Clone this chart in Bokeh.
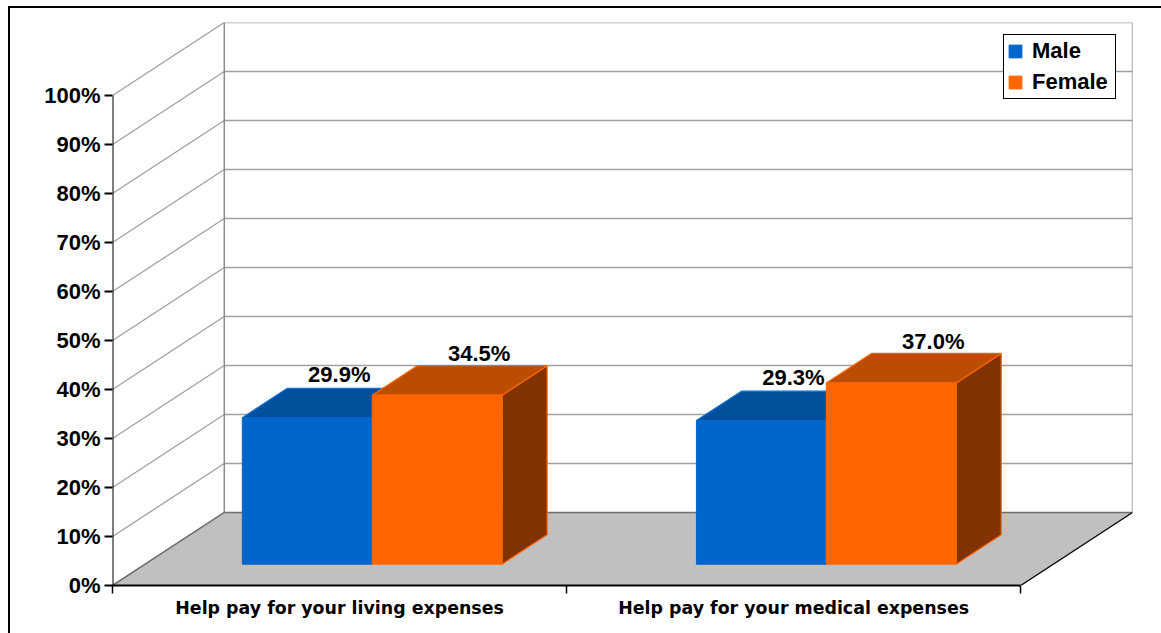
from bokeh.plotting import figure
from bokeh.embed import file_html
from bokeh.resources import INLINE
from bokeh.models import (Range1d, LinearAxis, FixedTicker, Legend, LegendItem)
from bokeh.core.properties import value

categories = ["Help pay for your living expenses", "Help pay for your medical expenses"]
male = [29.9, 29.3]
female = [34.5, 37.0]
male_labels = ["29.9%", "29.3%"]
female_labels = ["34.5%", "37.0%"]
y_ticks = [0, 10, 20, 30, 40, 50, 60, 70, 80, 90, 100]
y_tick_labels = ["0%", "10%", "20%", "30%", "40%", "50%", "60%", "70%", "80%", "90%", "100%"]

# oblique projection of the 3D chart
DX, DY = 0.2462, 14.9        # full chart depth in axis units
BAR_W = 0.286
BAR_START = 0.214
D0, D1 = 0.292, 0.695        # bar depth range as a fraction of chart depth

def proj(x, v, d):
    return x + d * DX, v + d * DY

FONT = "Liberation Sans"
p = figure(frame_width=1020, frame_height=563, width=1151, height=625,
           x_range=Range1d(0, 2 + DX), y_range=Range1d(0, 100 + DY),
           x_axis_type=None, y_axis_type=None, output_backend="svg", toolbar_location=None,
           min_border_left=102, min_border_right=29, min_border_top=14, min_border_bottom=48,
           margin=(6, 0, 0, 8),
           styles={"border-top": "2px solid #000000", "border-left": "2px solid #000000"},
           background_fill_color="white", border_fill_color="white")
p.outline_line_color = None
p.grid.visible = False

# floor
fx, fy = zip(*[proj(0, 0, 0), proj(2, 0, 0), proj(2, 0, 1), proj(0, 0, 1)])
p.patch(list(fx), list(fy), fill_color="#c0c0c0", line_color=None)

# walls: grid lines
for t in y_ticks[1:]:
    a, b, c = proj(0, t, 0), proj(0, t, 1), proj(2, t, 1)
    p.line([a[0], b[0], c[0]], [a[1], b[1], c[1]], line_color="#a0a0a0", line_width=1.3)
top_l, bot_l = proj(0, 100, 1), proj(0, 0, 1)
top_r, bot_r = proj(2, 100, 1), proj(2, 0, 1)
p.line([top_l[0], bot_l[0]], [top_l[1], bot_l[1]], line_color="#8c8c8c", line_width=1.5)
p.line([top_r[0], bot_r[0]], [top_r[1], bot_r[1]], line_color="#8c8c8c", line_width=1.5)
p.line([bot_l[0], bot_r[0]], [bot_l[1], bot_r[1]], line_color="#6e6e6e", line_width=1.5)
o = proj(0, 0, 0)
p.line([o[0], bot_l[0]], [o[1], bot_l[1]], line_color="#6e6e6e", line_width=1.5)
e = proj(2, 0, 0)
p.line([e[0], bot_r[0]], [e[1], bot_r[1]], line_color="#000000", line_width=1.3)


def bar_faces(x0, x1, v):
    f = [proj(x0, 0, D0), proj(x1, 0, D0), proj(x1, v, D0), proj(x0, v, D0)]
    t = [proj(x0, v, D0), proj(x1, v, D0), proj(x1, v, D1), proj(x0, v, D1)]
    s = [proj(x1, 0, D0), proj(x1, 0, D1), proj(x1, v, D1), proj(x1, v, D0)]
    return f, t, s


def draw(values, offset, front, top, side, edge):
    rend = None
    for i, v in enumerate(values):
        x0 = i + BAR_START + offset * BAR_W
        f, t, s = bar_faces(x0, x0 + BAR_W, v)
        p.patch([q[0] for q in s], [q[1] for q in s], fill_color=side, line_color=edge, line_width=1.2)
        p.patch([q[0] for q in t], [q[1] for q in t], fill_color=top, line_color=edge, line_width=1.2)
        r = p.patch([q[0] for q in f], [q[1] for q in f], fill_color=front, line_color=front, line_width=1)
        rend = rend or r
    return rend


r_m = draw(male, 0, "#0066cc", "#004f9c", "#003366", "#0a6fd6")
r_f = draw(female, 1, "#ff6600", "#bb4d00", "#803300", "#ff6600")

# data labels
for values, labels, offset, xoff, yoff in [(male, male_labels, 0, -13, -14), (female, female_labels, 1, -3, -12)]:
    xs, ys = [], []
    for i, v in enumerate(values):
        x, y = proj(i + BAR_START + (offset + 0.5) * BAR_W, v, D1)
        xs.append(x)
        ys.append(y)
    p.text(xs, ys, text=labels, text_align="center", text_baseline="alphabetic",
           x_offset=xoff, y_offset=yoff, text_font=value(FONT), text_font_style="bold",
           text_font_size="22px", text_color="#000000")

# axes
ya = LinearAxis(ticker=FixedTicker(ticks=y_ticks),
                major_label_overrides={t: l for t, l in zip(y_ticks, y_tick_labels)})
ya.axis_line_color = None
ya.major_tick_line_color = "#000000"
ya.major_tick_line_width = 2
ya.major_tick_in = 0
ya.major_tick_out = 8
ya.minor_tick_line_color = None
ya.major_label_standoff = 4
ya.major_label_text_font = FONT
ya.major_label_text_font_style = "bold"
ya.major_label_text_font_size = "22px"
ya.major_label_text_color = "#000000"
p.add_layout(ya, "left")
p.line([0, 0], [y_ticks[0], y_ticks[-1]], line_color="#000000", line_width=2)

xa = LinearAxis(ticker=FixedTicker(ticks=[0.5, 1.5], minor_ticks=[0, 1, 2]), bounds=(0, 2),
                major_label_overrides={0.5: categories[0], 1.5: categories[1]})
xa.axis_line_color = "#000000"
xa.axis_line_width = 2
xa.major_tick_line_color = None
xa.major_tick_in = 0
xa.major_tick_out = 0
xa.minor_tick_line_color = "#000000"
xa.minor_tick_line_width = 1.5
xa.minor_tick_in = 0
xa.minor_tick_out = 8
xa.major_label_standoff = 4
xa.major_label_text_font = "DejaVu Sans"
xa.major_label_text_font_style = "bold"
xa.major_label_text_font_size = "17.4px"
xa.major_label_text_color = "#000000"
p.add_layout(xa, "below")

# legend
legend = Legend(items=[LegendItem(label="Male", renderers=[r_m]),
                       LegendItem(label="Female", renderers=[r_f])],
                location=(891, 486), orientation="vertical",
                glyph_width=16, glyph_height=16, label_standoff=9, spacing=5, label_width=80,
                padding=3, margin=0, border_line_color="#000000", border_line_width=1.5,
                border_line_alpha=1, background_fill_color="#ffffff", background_fill_alpha=1,
                label_text_font=FONT, label_text_font_style="bold",
                label_text_font_size="22px", label_text_color="#000000")
p.add_layout(legend)

open("out.html", "w").write(file_html(p, INLINE))
